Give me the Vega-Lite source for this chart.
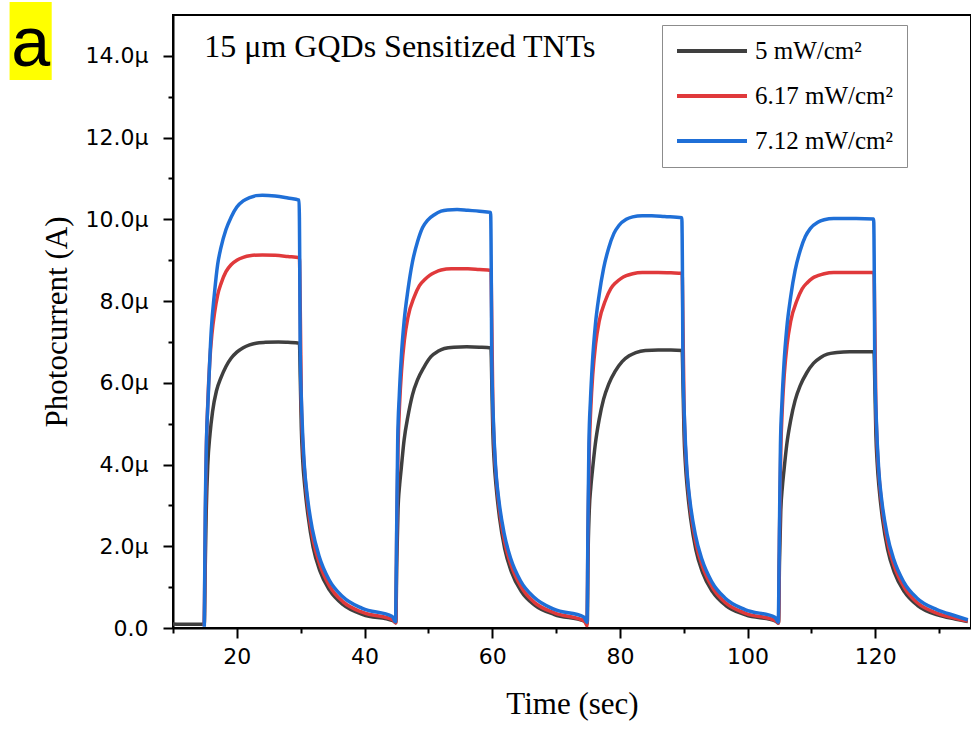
{
  "$schema": "https://vega.github.io/schema/vega-lite/v6.json",
  "width": 798,
  "height": 613,
  "autosize": {"type": "none"},
  "padding": {"left": 173, "top": 15, "right": 0, "bottom": 101},
  "background": "white",
  "config": {
    "view": {"stroke": "black", "strokeWidth": 2},
    "axis": {
      "domainColor": "black", "domainWidth": 2, "tickColor": "black", "tickWidth": 2,
      "labelFont": "DejaVu Sans", "labelFontSize": 22, "labelColor": "black",
      "titleFont": "Liberation Serif", "titleFontSize": 31, "titleFontWeight": "normal", "titleColor": "black",
      "grid": false
    }
  },
  "datasets": {
    "curves": [
      {"s":5,"t":10,"v":0.1},{"s":5,"t":12,"v":0.09},{"s":5,"t":14.9,"v":0.09},
      {"s":5,"t":15.05,"v":1.5},{"s":5,"t":15.2,"v":2.8},{"s":5,"t":15.45,"v":4.0},{"s":5,"t":15.8,"v":4.75},{"s":5,"t":16.2,"v":5.3},{"s":5,"t":16.8,"v":5.8},{"s":5,"t":17.5,"v":6.12},{"s":5,"t":18.3,"v":6.4},{"s":5,"t":19.1,"v":6.6},{"s":5,"t":20,"v":6.75},{"s":5,"t":21,"v":6.86},{"s":5,"t":22,"v":6.93},{"s":5,"t":23,"v":6.97},{"s":5,"t":24.5,"v":6.99},{"s":5,"t":26.5,"v":7.0},{"s":5,"t":28,"v":6.99},{"s":5,"t":29.8,"v":6.97},
      {"s":5,"t":29.95,"v":6.0},{"s":5,"t":30.1,"v":4.9},{"s":5,"t":30.3,"v":4.15},{"s":5,"t":30.65,"v":3.45},{"s":5,"t":31.15,"v":2.75},{"s":5,"t":31.95,"v":1.98},{"s":5,"t":33,"v":1.4},{"s":5,"t":34.55,"v":0.92},{"s":5,"t":36.65,"v":0.57},{"s":5,"t":39.75,"v":0.33},{"s":5,"t":44.45,"v":0.18},{"s":5,"t":44.9,"v":0.13},
      {"s":5,"t":45.05,"v":1.6},{"s":5,"t":45.25,"v":2.9},{"s":5,"t":45.5,"v":3.5},{"s":5,"t":45.75,"v":3.9},{"s":5,"t":46.2,"v":4.6},{"s":5,"t":46.8,"v":5.18},{"s":5,"t":47.5,"v":5.7},{"s":5,"t":48.3,"v":6.07},{"s":5,"t":49.3,"v":6.38},{"s":5,"t":50.4,"v":6.64},{"s":5,"t":51.5,"v":6.77},{"s":5,"t":52.5,"v":6.84},{"s":5,"t":54,"v":6.87},{"s":5,"t":56,"v":6.88},{"s":5,"t":58,"v":6.87},{"s":5,"t":59.8,"v":6.85},
      {"s":5,"t":59.95,"v":5.9},{"s":5,"t":60.1,"v":4.8},{"s":5,"t":60.3,"v":4.1},{"s":5,"t":60.65,"v":3.4},{"s":5,"t":61.15,"v":2.7},{"s":5,"t":61.95,"v":1.95},{"s":5,"t":63,"v":1.38},{"s":5,"t":64.55,"v":0.9},{"s":5,"t":66.65,"v":0.56},{"s":5,"t":69.75,"v":0.33},{"s":5,"t":74.45,"v":0.17},{"s":5,"t":74.9,"v":0.12},
      {"s":5,"t":75.0,"v":1.6},{"s":5,"t":75.2,"v":2.85},{"s":5,"t":75.45,"v":3.45},{"s":5,"t":75.7,"v":3.85},{"s":5,"t":76.15,"v":4.5},{"s":5,"t":76.75,"v":5.1},{"s":5,"t":77.45,"v":5.6},{"s":5,"t":78.25,"v":5.97},{"s":5,"t":79.25,"v":6.28},{"s":5,"t":80.35,"v":6.52},{"s":5,"t":81.45,"v":6.66},{"s":5,"t":82.5,"v":6.74},{"s":5,"t":84,"v":6.79},{"s":5,"t":86,"v":6.8},{"s":5,"t":88,"v":6.8},{"s":5,"t":89.75,"v":6.79},
      {"s":5,"t":89.9,"v":5.85},{"s":5,"t":90.05,"v":4.75},{"s":5,"t":90.25,"v":4.05},{"s":5,"t":90.6,"v":3.35},{"s":5,"t":91.1,"v":2.66},{"s":5,"t":91.9,"v":1.92},{"s":5,"t":92.95,"v":1.36},{"s":5,"t":94.5,"v":0.89},{"s":5,"t":96.6,"v":0.55},{"s":5,"t":99.7,"v":0.32},{"s":5,"t":104.4,"v":0.17},{"s":5,"t":104.85,"v":0.12},
      {"s":5,"t":105.0,"v":1.6},{"s":5,"t":105.2,"v":2.85},{"s":5,"t":105.45,"v":3.45},{"s":5,"t":105.7,"v":3.85},{"s":5,"t":106.15,"v":4.5},{"s":5,"t":106.75,"v":5.08},{"s":5,"t":107.45,"v":5.57},{"s":5,"t":108.25,"v":5.93},{"s":5,"t":109.25,"v":6.24},{"s":5,"t":110.35,"v":6.48},{"s":5,"t":111.45,"v":6.62},{"s":5,"t":112.5,"v":6.7},{"s":5,"t":114,"v":6.74},{"s":5,"t":116,"v":6.76},{"s":5,"t":118,"v":6.76},{"s":5,"t":119.8,"v":6.76},
      {"s":5,"t":119.95,"v":5.85},{"s":5,"t":120.1,"v":4.75},{"s":5,"t":120.3,"v":4.05},{"s":5,"t":120.65,"v":3.35},{"s":5,"t":121.15,"v":2.66},{"s":5,"t":121.95,"v":1.92},{"s":5,"t":123,"v":1.36},{"s":5,"t":124.55,"v":0.89},{"s":5,"t":126.65,"v":0.55},{"s":5,"t":129.75,"v":0.32},{"s":5,"t":132.5,"v":0.22},{"s":5,"t":134.5,"v":0.16},

      {"s":6.17,"t":14.9,"v":0.05},{"s":6.17,"t":15.05,"v":2.4},{"s":6.17,"t":15.2,"v":4.2},{"s":6.17,"t":15.45,"v":5.5},{"s":6.17,"t":15.75,"v":6.5},{"s":6.17,"t":16.1,"v":7.2},{"s":6.17,"t":16.5,"v":7.7},{"s":6.17,"t":17.0,"v":8.15},{"s":6.17,"t":17.55,"v":8.44},{"s":6.17,"t":18.3,"v":8.72},{"s":6.17,"t":19.1,"v":8.89},{"s":6.17,"t":20,"v":9.0},{"s":6.17,"t":21,"v":9.07},{"s":6.17,"t":22,"v":9.11},{"s":6.17,"t":24,"v":9.13},{"s":6.17,"t":26,"v":9.12},{"s":6.17,"t":28,"v":9.09},{"s":6.17,"t":29.8,"v":9.06},
      {"s":6.17,"t":29.95,"v":7.6},{"s":6.17,"t":30.1,"v":5.6},{"s":6.17,"t":30.3,"v":4.6},{"s":6.17,"t":30.65,"v":3.75},{"s":6.17,"t":31.15,"v":2.95},{"s":6.17,"t":31.95,"v":2.15},{"s":6.17,"t":33,"v":1.55},{"s":6.17,"t":34.55,"v":1.02},{"s":6.17,"t":36.65,"v":0.64},{"s":6.17,"t":39.75,"v":0.38},{"s":6.17,"t":44.45,"v":0.2},{"s":6.17,"t":44.9,"v":0.12},
      {"s":6.17,"t":45.05,"v":2.4},{"s":6.17,"t":45.25,"v":4.4},{"s":6.17,"t":45.5,"v":5.5},{"s":6.17,"t":45.8,"v":6.3},{"s":6.17,"t":46.25,"v":7.05},{"s":6.17,"t":46.8,"v":7.6},{"s":6.17,"t":47.8,"v":8.11},{"s":6.17,"t":48.6,"v":8.38},{"s":6.17,"t":49.4,"v":8.52},{"s":6.17,"t":50.2,"v":8.63},{"s":6.17,"t":51,"v":8.7},{"s":6.17,"t":52,"v":8.76},{"s":6.17,"t":53.6,"v":8.79},{"s":6.17,"t":56.2,"v":8.79},{"s":6.17,"t":58,"v":8.77},{"s":6.17,"t":59.8,"v":8.75},
      {"s":6.17,"t":59.95,"v":7.3},{"s":6.17,"t":60.1,"v":5.5},{"s":6.17,"t":60.3,"v":4.5},{"s":6.17,"t":60.65,"v":3.65},{"s":6.17,"t":61.15,"v":2.88},{"s":6.17,"t":61.95,"v":2.1},{"s":6.17,"t":63,"v":1.52},{"s":6.17,"t":64.55,"v":1.0},{"s":6.17,"t":66.65,"v":0.62},{"s":6.17,"t":69.75,"v":0.37},{"s":6.17,"t":74.45,"v":0.17},{"s":6.17,"t":74.85,"v":0.06},
      {"s":6.17,"t":75.0,"v":2.3},{"s":6.17,"t":75.2,"v":4.3},{"s":6.17,"t":75.45,"v":5.4},{"s":6.17,"t":75.75,"v":6.2},{"s":6.17,"t":76.2,"v":6.95},{"s":6.17,"t":76.75,"v":7.5},{"s":6.17,"t":77.75,"v":8.02},{"s":6.17,"t":78.55,"v":8.3},{"s":6.17,"t":79.35,"v":8.45},{"s":6.17,"t":80.15,"v":8.55},{"s":6.17,"t":81,"v":8.62},{"s":6.17,"t":82,"v":8.67},{"s":6.17,"t":83.5,"v":8.7},{"s":6.17,"t":86,"v":8.7},{"s":6.17,"t":88,"v":8.69},{"s":6.17,"t":89.75,"v":8.68},
      {"s":6.17,"t":89.9,"v":7.2},{"s":6.17,"t":90.05,"v":5.45},{"s":6.17,"t":90.25,"v":4.45},{"s":6.17,"t":90.6,"v":3.6},{"s":6.17,"t":91.1,"v":2.85},{"s":6.17,"t":91.9,"v":2.08},{"s":6.17,"t":92.95,"v":1.5},{"s":6.17,"t":94.5,"v":0.99},{"s":6.17,"t":96.6,"v":0.61},{"s":6.17,"t":99.7,"v":0.36},{"s":6.17,"t":104.4,"v":0.18},{"s":6.17,"t":104.85,"v":0.12},
      {"s":6.17,"t":105.0,"v":2.3},{"s":6.17,"t":105.2,"v":4.3},{"s":6.17,"t":105.45,"v":5.4},{"s":6.17,"t":105.75,"v":6.2},{"s":6.17,"t":106.2,"v":6.95},{"s":6.17,"t":106.75,"v":7.5},{"s":6.17,"t":107.75,"v":8.02},{"s":6.17,"t":108.55,"v":8.3},{"s":6.17,"t":109.35,"v":8.45},{"s":6.17,"t":110.15,"v":8.56},{"s":6.17,"t":111,"v":8.62},{"s":6.17,"t":112,"v":8.67},{"s":6.17,"t":113.5,"v":8.7},{"s":6.17,"t":116,"v":8.7},{"s":6.17,"t":118,"v":8.7},{"s":6.17,"t":119.8,"v":8.7},
      {"s":6.17,"t":119.95,"v":7.2},{"s":6.17,"t":120.1,"v":5.45},{"s":6.17,"t":120.3,"v":4.45},{"s":6.17,"t":120.65,"v":3.6},{"s":6.17,"t":121.15,"v":2.85},{"s":6.17,"t":121.95,"v":2.08},{"s":6.17,"t":123,"v":1.5},{"s":6.17,"t":124.55,"v":0.99},{"s":6.17,"t":126.65,"v":0.61},{"s":6.17,"t":129.75,"v":0.36},{"s":6.17,"t":132.5,"v":0.24},{"s":6.17,"t":134.5,"v":0.17},

      {"s":7.12,"t":14.9,"v":0.03},{"s":7.12,"t":15.05,"v":2.8},{"s":7.12,"t":15.25,"v":4.6},{"s":7.12,"t":15.5,"v":5.6},{"s":7.12,"t":16.0,"v":7.3},{"s":7.12,"t":16.5,"v":8.2},{"s":7.12,"t":17.0,"v":8.9},{"s":7.12,"t":17.5,"v":9.3},{"s":7.12,"t":18.3,"v":9.75},{"s":7.12,"t":19.1,"v":10.05},{"s":7.12,"t":20,"v":10.3},{"s":7.12,"t":21,"v":10.45},{"s":7.12,"t":22,"v":10.53},{"s":7.12,"t":23,"v":10.58},{"s":7.12,"t":24,"v":10.59},{"s":7.12,"t":26,"v":10.57},{"s":7.12,"t":28,"v":10.52},{"s":7.12,"t":29.75,"v":10.47},
      {"s":7.12,"t":29.85,"v":9.0},{"s":7.12,"t":29.92,"v":6.9},{"s":7.12,"t":30.18,"v":5.26},{"s":7.12,"t":30.55,"v":4.03},{"s":7.12,"t":31.05,"v":3.21},{"s":7.12,"t":31.85,"v":2.4},{"s":7.12,"t":32.9,"v":1.75},{"s":7.12,"t":34.45,"v":1.18},{"s":7.12,"t":36.55,"v":0.77},{"s":7.12,"t":39.65,"v":0.48},{"s":7.12,"t":44.35,"v":0.28},{"s":7.12,"t":44.85,"v":0.15},
      {"s":7.12,"t":45.05,"v":2.6},{"s":7.12,"t":45.2,"v":4.6},{"s":7.12,"t":45.45,"v":5.7},{"s":7.12,"t":45.75,"v":6.6},{"s":7.12,"t":46.2,"v":7.5},{"s":7.12,"t":46.8,"v":8.27},{"s":7.12,"t":47.5,"v":8.95},{"s":7.12,"t":48.3,"v":9.45},{"s":7.12,"t":49.1,"v":9.8},{"s":7.12,"t":49.9,"v":9.98},{"s":7.12,"t":51,"v":10.12},{"s":7.12,"t":52,"v":10.2},{"s":7.12,"t":53,"v":10.23},{"s":7.12,"t":54.5,"v":10.24},{"s":7.12,"t":56.2,"v":10.22},{"s":7.12,"t":58,"v":10.2},{"s":7.12,"t":59.75,"v":10.17},
      {"s":7.12,"t":59.85,"v":8.8},{"s":7.12,"t":59.92,"v":6.7},{"s":7.12,"t":60.18,"v":5.1},{"s":7.12,"t":60.55,"v":3.9},{"s":7.12,"t":61.05,"v":3.12},{"s":7.12,"t":61.85,"v":2.33},{"s":7.12,"t":62.9,"v":1.7},{"s":7.12,"t":64.45,"v":1.15},{"s":7.12,"t":66.55,"v":0.75},{"s":7.12,"t":69.65,"v":0.46},{"s":7.12,"t":74.35,"v":0.27},{"s":7.12,"t":74.85,"v":0.14},
      {"s":7.12,"t":75.0,"v":2.5},{"s":7.12,"t":75.15,"v":4.5},{"s":7.12,"t":75.4,"v":5.6},{"s":7.12,"t":75.7,"v":6.5},{"s":7.12,"t":76.15,"v":7.4},{"s":7.12,"t":76.75,"v":8.15},{"s":7.12,"t":77.45,"v":8.8},{"s":7.12,"t":78.25,"v":9.3},{"s":7.12,"t":79.05,"v":9.65},{"s":7.12,"t":79.85,"v":9.85},{"s":7.12,"t":81,"v":10.0},{"s":7.12,"t":82,"v":10.06},{"s":7.12,"t":83.5,"v":10.09},{"s":7.12,"t":85,"v":10.09},{"s":7.12,"t":87,"v":10.07},{"s":7.12,"t":89.7,"v":10.04},
      {"s":7.12,"t":89.8,"v":8.7},{"s":7.12,"t":89.87,"v":6.6},{"s":7.12,"t":90.13,"v":5.05},{"s":7.12,"t":90.5,"v":3.87},{"s":7.12,"t":91,"v":3.08},{"s":7.12,"t":91.8,"v":2.3},{"s":7.12,"t":92.85,"v":1.68},{"s":7.12,"t":94.4,"v":1.13},{"s":7.12,"t":96.5,"v":0.73},{"s":7.12,"t":99.6,"v":0.45},{"s":7.12,"t":104.3,"v":0.26},{"s":7.12,"t":104.8,"v":0.14},
      {"s":7.12,"t":105.0,"v":2.5},{"s":7.12,"t":105.15,"v":4.45},{"s":7.12,"t":105.4,"v":5.55},{"s":7.12,"t":105.7,"v":6.45},{"s":7.12,"t":106.15,"v":7.35},{"s":7.12,"t":106.75,"v":8.1},{"s":7.12,"t":107.45,"v":8.75},{"s":7.12,"t":108.25,"v":9.24},{"s":7.12,"t":109.05,"v":9.58},{"s":7.12,"t":109.85,"v":9.78},{"s":7.12,"t":111,"v":9.93},{"s":7.12,"t":112,"v":9.99},{"s":7.12,"t":113.5,"v":10.02},{"s":7.12,"t":115,"v":10.02},{"s":7.12,"t":117,"v":10.02},{"s":7.12,"t":119.75,"v":10.01},
      {"s":7.12,"t":119.85,"v":8.7},{"s":7.12,"t":119.92,"v":6.6},{"s":7.12,"t":120.18,"v":5.05},{"s":7.12,"t":120.55,"v":3.87},{"s":7.12,"t":121.05,"v":3.08},{"s":7.12,"t":121.85,"v":2.3},{"s":7.12,"t":122.9,"v":1.68},{"s":7.12,"t":124.45,"v":1.13},{"s":7.12,"t":126.55,"v":0.73},{"s":7.12,"t":129.65,"v":0.45},{"s":7.12,"t":132.5,"v":0.3},{"s":7.12,"t":134.5,"v":0.2}
    ],
    "badge": [{"t": -15.6, "t2": -9.0, "v": 13.41, "v2": 15.32, "tc": -12.3, "vb": 13.75, "label": "a"}],
    "note": [{"t": 14.9, "v": 13.98, "label": "15 μm GQDs Sensitized TNTs"}]
  },
  "layer": [
    {
      "data": {"name": "curves"},
      "mark": {"type": "line", "strokeWidth": 3.5, "interpolate": "monotone"},
      "encoding": {
        "x": {
          "field": "t", "type": "quantitative",
          "scale": {"domain": [10, 135], "nice": false, "zero": false},
          "axis": {
            "title": "Time (sec)",
            "values": [10, 20, 30, 40, 50, 60, 70, 80, 90, 100, 110, 120, 130],
            "labelExpr": "datum.value % 20 === 0 ? format(datum.value, 'd') : ''",
            "tickSize": {"condition": {"test": "datum.value % 20 === 0", "value": 10}, "value": 5},
            "labelPadding": 8,
            "titlePadding": 22
          }
        },
        "y": {
          "field": "v", "type": "quantitative",
          "scale": {"domain": [0, 15], "nice": false},
          "axis": {
            "title": "Photocurrent (A)",
            "values": [0, 1, 2, 3, 4, 5, 6, 7, 8, 9, 10, 11, 12, 13, 14],
            "labelExpr": "datum.value === 0 ? '0.0' : (datum.value % 2 === 0 ? format(datum.value, '.1f') + 'μ' : '')",
            "tickSize": {"condition": {"test": "datum.value % 2 === 0", "value": 10}, "value": 5},
            "labelPadding": 15,
            "titlePadding": 12
          }
        },
        "color": {
          "field": "s", "type": "nominal",
          "scale": {"domain": [5, 6.17, 7.12], "range": ["#3f3f3f", "#e0393b", "#1f6fd7"]},
          "legend": {
            "orient": "none", "legendX": 489, "legendY": 10,
            "title": null,
            "labelExpr": "datum.label + ' mW/cm²'",
            "labelFont": "Liberation Serif", "labelFontSize": 25, "labelColor": "black",
            "symbolType": "stroke", "symbolSize": 4900, "symbolStrokeWidth": 4,
            "clipHeight": 26, "rowPadding": 19, "labelOffset": 6,
            "padding": 13, "strokeColor": "#8c8c8c", "fillColor": "white"
          }
        }
      }
    },
    {
      "data": {"name": "badge"},
      "mark": {"type": "rect", "color": "#ffff00"},
      "encoding": {
        "x": {"field": "t", "type": "quantitative"},
        "x2": {"field": "t2"},
        "y": {"field": "v", "type": "quantitative"},
        "y2": {"field": "v2"}
      }
    },
    {
      "data": {"name": "badge"},
      "mark": {"type": "text", "font": "Liberation Sans", "fontSize": 70, "align": "center", "baseline": "alphabetic", "color": "black"},
      "encoding": {
        "x": {"field": "tc", "type": "quantitative"},
        "y": {"field": "vb", "type": "quantitative"},
        "text": {"field": "label"}
      }
    },
    {
      "data": {"name": "note"},
      "mark": {"type": "text", "font": "Liberation Serif", "fontSize": 32, "align": "left", "baseline": "alphabetic", "color": "black"},
      "encoding": {
        "x": {"field": "t", "type": "quantitative"},
        "y": {"field": "v", "type": "quantitative"},
        "text": {"field": "label"}
      }
    }
  ]
}
